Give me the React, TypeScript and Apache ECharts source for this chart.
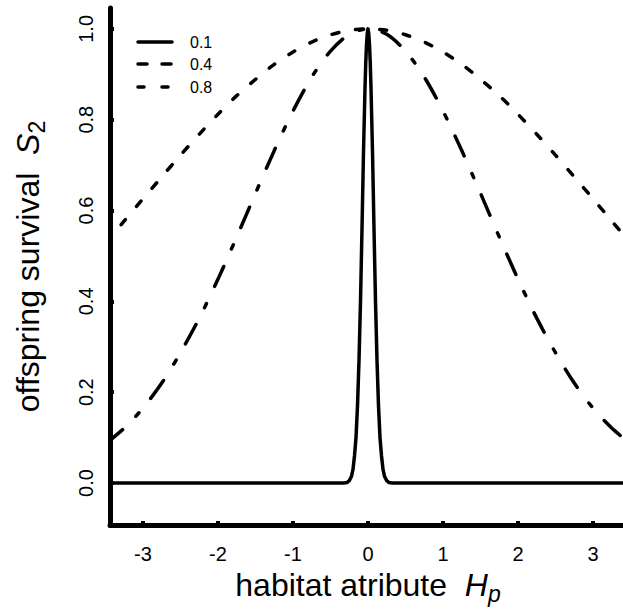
import React, { useEffect, useRef } from "react";
import * as echarts from "echarts";

// ---- data ----
const xTicks = [-3, -2, -1, 0, 1, 2, 3];
const yTicks = [0, 0.2, 0.4, 0.6, 0.8, 1.0];

// narrow curve (0.1)
const xNarrow = [-3.5, -0.32, -0.28, -0.25, -0.22, -0.2, -0.18, -0.16, -0.14, -0.12, -0.1, -0.09, -0.08, -0.07, -0.06, -0.05, -0.04, -0.03, -0.02, -0.01, 0,
  0.01, 0.02, 0.03, 0.04, 0.05, 0.06, 0.07, 0.08, 0.09, 0.1, 0.12, 0.14, 0.16, 0.18, 0.2, 0.22, 0.25, 0.28, 0.32, 3.5];
const yNarrow = [0, 0, 0.001, 0.005, 0.015, 0.03, 0.06, 0.1, 0.17, 0.27, 0.4, 0.48, 0.56, 0.645, 0.73, 0.8, 0.87, 0.925, 0.965, 0.99, 1.0,
  0.99, 0.965, 0.925, 0.87, 0.8, 0.73, 0.645, 0.56, 0.48, 0.4, 0.27, 0.17, 0.1, 0.06, 0.03, 0.015, 0.005, 0.001, 0, 0];

// middle curve (0.4)
const xMid = [-3.5, -3.25, -3.0, -2.75, -2.5, -2.25, -2.0, -1.75, -1.5, -1.25, -1.0, -0.75, -0.5, -0.25, 0,
  0.25, 0.5, 0.75, 1.0, 1.25, 1.5, 1.75, 2.0, 2.25, 2.5, 2.75, 3.0, 3.25, 3.5];
const yMid = [0.086, 0.121, 0.165, 0.22, 0.287, 0.363, 0.449, 0.542, 0.638, 0.732, 0.819, 0.894, 0.951, 0.988, 1.0,
  0.988, 0.951, 0.894, 0.819, 0.732, 0.638, 0.542, 0.449, 0.363, 0.287, 0.22, 0.165, 0.121, 0.086];

// wide curve (0.8)
const xWide = [-3.5, -3.25, -3.0, -2.75, -2.5, -2.25, -2.0, -1.75, -1.5, -1.25, -1.0, -0.75, -0.5, -0.25, 0,
  0.25, 0.5, 0.75, 1.0, 1.25, 1.5, 1.75, 2.0, 2.25, 2.5, 2.75, 3.0, 3.25, 3.5];
const yWide = [0.528, 0.577, 0.626, 0.674, 0.722, 0.768, 0.812, 0.853, 0.889, 0.922, 0.949, 0.971, 0.987, 0.997, 1.0,
  0.997, 0.987, 0.971, 0.949, 0.922, 0.889, 0.853, 0.812, 0.768, 0.722, 0.674, 0.626, 0.577, 0.528];

const legendLabels = ["0.1", "0.4", "0.8"];

const FONT = "Liberation Sans";

function pairs(xs: number[], ys: number[]) {
  return xs.map((x, i) => [x, ys[i]]);
}

export default function App() {
  const ref = useRef<HTMLDivElement>(null);
  useEffect(() => {
    if (!ref.current) return;
    const chart = echarts.init(ref.current, undefined, { renderer: "svg" });
    const lineW = 3.5;
    const legendY = [42, 64, 87];
    const legendDash: any[] = ["solid", [9, 15], [6, 18]];
    const graphics: any[] = [];
    legendLabels.forEach((lab, i) => {
      graphics.push({
        type: "line",
        shape: { x1: 138, y1: legendY[i], x2: 172, y2: legendY[i] },
        style: { stroke: "#000", lineWidth: 3.5, lineDash: legendDash[i] === "solid" ? null : legendDash[i], lineCap: "round" },
      });
      graphics.push({
        type: "text",
        x: 190,
        y: legendY[i],
        style: { text: lab, fill: "#000", fontSize: 16, fontFamily: FONT, verticalAlign: "middle" },
      });
    });

    const titleSize = 32;
    chart.setOption({
      animation: false,
      textStyle: { fontFamily: FONT },
      grid: { left: 110, right: 0, top: 8, bottom: 87, containLabel: false },
      xAxis: {
        type: "value",
        min: -3.44,
        max: 3.44,
        axisLine: { show: true, onZero: false, lineStyle: { color: "#000", width: 5 } },
        axisTick: { show: true, inside: true, length: 4, customValues: xTicks, lineStyle: { color: "#000", width: 4 } },
        axisLabel: { customValues: xTicks, color: "#000", fontSize: 20, fontFamily: FONT, margin: 19 },
        splitLine: { show: false },
        name: "{n|habitat atribute  }{i|H}{s|p}",
        nameLocation: "middle",
        nameGap: 38,
        nameTextStyle: {
          color: "#000",
          fontFamily: FONT,
          fontSize: titleSize,
          rich: {
            n: { fontSize: titleSize, fontFamily: FONT, color: "#000" },
            i: { fontSize: titleSize, fontFamily: FONT, fontStyle: "italic", color: "#000" },
            s: { fontSize: 23, fontFamily: FONT, fontStyle: "italic", color: "#000", padding: [18, 0, 0, 0] },
          },
        },
      },
      yAxis: {
        type: "value",
        min: -0.0925,
        max: 1.046,
        axisLine: { show: true, onZero: false, lineStyle: { color: "#000", width: 5 } },
        axisTick: { show: true, inside: true, length: 4, customValues: yTicks, lineStyle: { color: "#000", width: 4 } },
        axisLabel: {
          customValues: yTicks,
          color: "#000",
          fontSize: 20,
          fontFamily: FONT,
          rotate: 90,
          margin: 14,
          formatter: (v: number) => v.toFixed(1),
        },
        splitLine: { show: false },
        name: "{n|offspring survival  }{i|S}{s|2}",
        nameLocation: "middle",
        nameRotate: 90,
        nameGap: 62,
        nameTextStyle: {
          color: "#000",
          fontFamily: FONT,
          fontSize: titleSize,
          rich: {
            n: { fontSize: titleSize, fontFamily: FONT, color: "#000" },
            i: { fontSize: titleSize, fontFamily: FONT, fontStyle: "italic", color: "#000" },
            s: { fontSize: 23, fontFamily: FONT, color: "#000", padding: [18, 0, 0, 0] },
          },
        },
      },
      graphic: graphics,
      series: [
        {
          type: "line",
          data: pairs(xNarrow, yNarrow),
          showSymbol: false,
          symbol: "none",
          lineStyle: { color: "#000", width: lineW, type: "solid", cap: "round", join: "round" },
        },
        {
          type: "line",
          data: pairs(xMid, yMid),
          showSymbol: false,
          symbol: "none",
          smooth: 0.3,
          lineStyle: { color: "#000", width: lineW, type: [22, 19, 4.5, 19], cap: "round" },
        },
        {
          type: "line",
          data: pairs(xWide, yWide),
          showSymbol: false,
          symbol: "none",
          smooth: 0.3,
          lineStyle: { color: "#000", width: lineW, type: [7, 17], cap: "round" },
        },
      ],
    });
    return () => chart.dispose();
  }, []);
  return (
    <div
      ref={ref}
      style={{ position: "fixed", left: 0, top: 0, width: 626, height: 612, background: "#fff" }}
    />
  );
}
